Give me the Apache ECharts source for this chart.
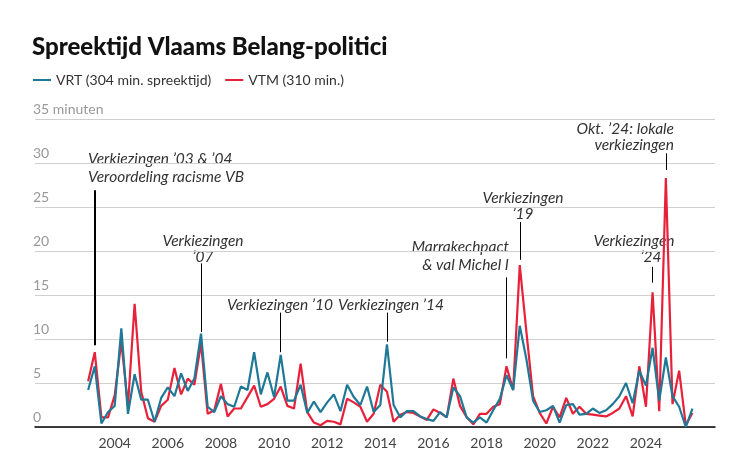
<!DOCTYPE html>
<html><head><meta charset="utf-8">
<script src="https://cdn.jsdelivr.net/npm/echarts@6/dist/echarts.min.js"></script>
<style>body{margin:0;background:#fff}#c{width:730px;height:472px}</style>
</head><body><div id="c"></div>
<script>
const startYear = 2003;
const vrt = [4.2,6.9,0.4,1.7,2.4,11.2,1.5,6.0,3.1,3.1,
0.6,3.3,4.5,3.5,6.1,4.1,5.5,10.6,2.3,1.7,
3.5,2.6,2.3,4.6,4.2,8.5,3.7,6.2,3.4,8.2,
3.0,3.0,4.8,1.6,2.9,1.7,2.8,3.7,1.8,4.8,
3.4,2.5,4.6,1.7,2.5,9.4,2.5,1.1,1.8,1.8,
1.2,0.9,0.7,1.7,1.1,4.5,3.5,1.1,0.5,1.1,
0.5,1.9,3.2,5.9,4.2,11.5,7.7,3.0,1.7,1.9,
2.4,0.5,2.5,2.6,1.4,1.5,2.1,1.6,1.9,2.6,
3.5,5.0,2.7,6.4,4.7,9.0,3.0,7.9,3.5,2.3,0,2.1];
const vtm = [5.2,8.5,1.1,1.1,3.6,9.7,2.4,14.0,4.0,1.0,
0.6,2.4,3.1,6.7,3.7,5.5,4.8,9.5,1.5,1.9,
4.9,1.2,2.1,2.1,3.4,4.7,2.3,2.6,3.2,4.6,
2.4,2.1,7.2,1.7,0.5,0.2,0.7,0.6,0.3,3.2,
2.8,2.3,0.6,1.5,4.8,4.0,0.6,1.4,1.7,1.6,
1.2,0.8,2.0,1.6,1.1,5.5,2.4,1.1,0.3,1.5,
1.5,2.3,2.6,6.9,4.2,18.4,10.8,3.5,1.6,0.4,
2.3,1.1,3.3,1.5,2.3,1.5,1.4,1.3,1.2,1.6,
2.1,3.5,1.2,6.9,2.3,15.3,1.8,28.3,2.6,6.4,0.2,1.6];
const yearTicks = [2004,2006,2008,2010,2012,2014,2016,2018,2020,2022,2024];
const yTicks = [0,5,10,15,20,25,30,35];
// annotation pointer lines: [x, yTop, yBottom, width]
const pointers = [[2003.25,26.9,9.3,2],[2007.25,18.6,10.8,1],[2010.25,13.0,8.5,1],[2014.25,13.0,9.7,1],
 [2018.75,17.0,7.8,1],[2019.25,23.3,19.0,1],[2024.25,18.2,16.4,1],[2024.75,31.1,29.2,1]];

const toXY = arr => arr.map((v,i)=>[startYear + i/4, v]);
const chart = echarts.init(document.getElementById('c'));
const F = 'Lato, "Noto Sans", sans-serif';
function txt(x,y,t,align){return {type:'text',x:x,y:y,style:{text:t,font:'italic 15.5px '+F,fill:'#333',textAlign:align||'center',textVerticalAlign:'middle'}};}
chart.setOption({
 animation:false,
 grid:{left:35,right:15,top:119,bottom:45},
 title:{text:'Spreektijd Vlaams Belang-politici',left:27,top:30,textStyle:{fontFamily:F,fontWeight:900,fontSize:24,color:'#111'}},
 legend:{left:28,top:68,itemWidth:18,itemHeight:2,itemGap:14,icon:'rect',
   textStyle:{fontFamily:F,fontSize:14,color:'#333'},data:['VRT (304 min. spreektijd)','VTM (310 min.)']},
 xAxis:{type:'value',min:2001,max:2026.6,
   axisLine:{lineStyle:{color:'#000',width:1.5}},
   axisTick:{show:false},splitLine:{show:false},
   axisLabel:{customValues:yearTicks,formatter:v=>String(v),fontFamily:F,fontSize:14,color:'#444',margin:9}},
 yAxis:{type:'value',min:0,max:35,interval:5,
   axisLine:{show:false},axisTick:{show:false},
   splitLine:{lineStyle:{color:'#d0d0d0',width:1}},
   axisLabel:{inside:true,align:'left',verticalAlign:'bottom',margin:-2,padding:[0,0,3,0],
     fontFamily:F,fontSize:14,color:'#999',formatter:v=>v===35?'35 minuten':String(v)}},
 series:[
  {name:'VRT (304 min. spreektijd)',type:'line',data:toXY(vrt),symbol:'none',z:3,
   lineStyle:{color:'#1f7896',width:2.2},itemStyle:{color:'#1f7896'}},
  {name:'VTM (310 min.)',type:'line',data:toXY(vtm),symbol:'none',z:2,
   lineStyle:{color:'#e8213b',width:2.2},itemStyle:{color:'#e8213b'},
   markLine:{silent:true,symbol:'none',label:{show:false},
     data:pointers.map(p=>[{coord:[p[0],p[1]],lineStyle:{color:'#000',width:p[3],type:'solid'}},{coord:[p[0],p[2]]}])}}
 ],
 graphic:[
  txt(88,159,'Verkiezingen ’03 & ’04','left'), txt(88,177,'Veroordeling racisme VB','left'),
  txt(203,241,'Verkiezingen'), txt(203,257,'’07'),
  txt(280,305,'Verkiezingen ’10'), txt(391,305,'Verkiezingen ’14'),
  txt(509,247,'Marrakechpact','right'), txt(509,265,'& val Michel I','right'),
  txt(523,198,'Verkiezingen'), txt(523,214,'’19'),
  txt(634,241,'Verkiezingen'), txt(651,257,'’24'),
  txt(674,129,'Okt. ’24: lokale','right'), txt(674,145,'verkiezingen','right')
 ]
});
</script></body></html>
